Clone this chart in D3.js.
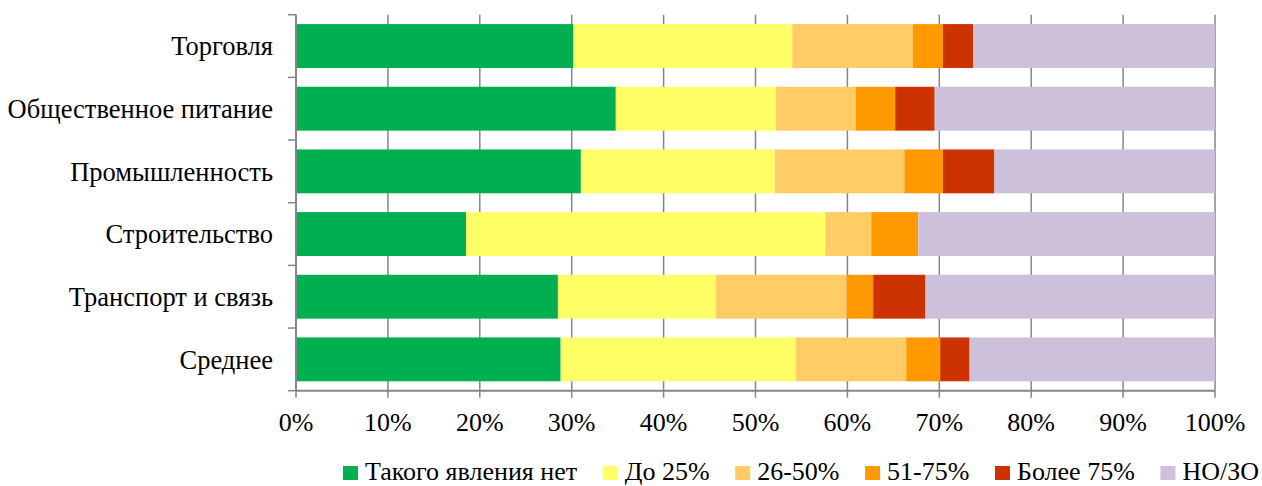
<!DOCTYPE html>
<html><head><meta charset="utf-8">
<script src="https://cdn.jsdelivr.net/npm/d3@7"></script>
<style>body{margin:0;background:#fff;} svg{display:block;}</style>
</head><body>
<svg id="chart" width="1262" height="486"></svg>
<script>
const categories = ["Торговля","Общественное питание","Промышленность","Строительство","Транспорт и связь","Среднее"];
const seriesNames = ["Такого явления нет","До 25%","26-50%","51-75%","Более 75%","НО/ЗО"];
const colors = ["#00B050","#FFFF66","#FFCC66","#FF9900","#CC3300","#CCC0DA"];
const s1 = [30.2, 34.8, 31.0, 18.5, 28.5, 28.8];
const s2 = [23.8, 17.4, 21.1, 39.1, 17.2, 25.6];
const s3 = [13.1, 8.7, 14.1, 5.0, 14.2, 12.0];
const s4 = [3.3, 4.3, 4.2, 5.1, 2.9, 3.7];
const s5 = [3.3, 4.3, 5.6, 0.0, 5.7, 3.2];
const s6 = [26.3, 30.5, 24.0, 32.3, 31.5, 26.7];
const tickValues = [0,10,20,30,40,50,60,70,80,90,100];

const seriesValues = [s1,s2,s3,s4,s5,s6];
const rows = categories.map((c,i)=>{const r={cat:c}; seriesNames.forEach((n,j)=>r[n]=seriesValues[j][i]); return r;});
const stacked = d3.stack().keys(seriesNames)(rows);

const svg = d3.select("#chart");
const L=296, R=1215, T=14.7, B=390.7;
const x = d3.scaleLinear().domain([0,100]).range([L,R]);
const y = d3.scaleBand().domain(categories).range([T,B]).paddingInner(0.3).paddingOuter(0.15);
const font = "'Liberation Serif','Times New Roman',serif";
const grey = "#868686";

svg.append("g").selectAll("line").data(tickValues).join("line")
  .attr("x1",d=>x(d)).attr("x2",d=>x(d)).attr("y1",T).attr("y2",B+7)
  .attr("stroke",grey).attr("stroke-width",1.5);

svg.append("g").selectAll("g").data(stacked).join("g")
  .attr("fill",(d,i)=>colors[i])
  .selectAll("rect").data(d=>d).join("rect")
  .attr("x",d=>x(d[0])).attr("width",d=>Math.max(0,x(d[1])-x(d[0])))
  .attr("y",d=>y(d.data.cat)).attr("height",y.bandwidth());

const step = (B-T)/categories.length;
svg.append("line").attr("x1",L).attr("x2",L).attr("y1",T).attr("y2",B).attr("stroke",grey).attr("stroke-width",2);
svg.append("g").selectAll("line").data(d3.range(categories.length+1)).join("line")
  .attr("x1",L-8).attr("x2",L).attr("y1",i=>T+i*step).attr("y2",i=>T+i*step)
  .attr("stroke",grey).attr("stroke-width",1.5);
svg.append("line").attr("x1",L).attr("x2",R).attr("y1",B).attr("y2",B).attr("stroke",grey).attr("stroke-width",2);

svg.append("g").selectAll("text").data(categories).join("text")
  .attr("x",273).attr("y",d=>y(d)+y.bandwidth()/2).attr("dy","0.35em")
  .attr("text-anchor","end").attr("font-family",font).attr("font-size",26.5).attr("fill","#000")
  .text(d=>d);

svg.append("g").selectAll("text").data(tickValues).join("text")
  .attr("x",d=>x(d)).attr("y",431).attr("text-anchor","middle")
  .attr("font-family",font).attr("font-size",26).attr("fill","#000")
  .text(d=>d+"%");

// legend
const lg = svg.append("g");
const items = seriesNames.map((n,i)=>{
  const r = lg.append("rect").attr("y",466).attr("width",15).attr("height",14).attr("fill",colors[i]);
  const t = lg.append("text").attr("y",480).attr("font-family",font).attr("font-size",26).attr("fill","#000").text(n);
  return {r,t,w:t.node().getComputedTextLength()};
});
const startX = 343, endX = 1259, sw = 15, tgap = 7;
const totalText = d3.sum(items,d=>d.w) + items.length*(sw+tgap);
const gap = (endX - startX - totalText)/(items.length-1);
let lx = startX;
items.forEach(it=>{
  it.r.attr("x",lx); it.t.attr("x",lx+sw+tgap);
  lx += sw+tgap+it.w+gap;
});
</script>
</body></html>
